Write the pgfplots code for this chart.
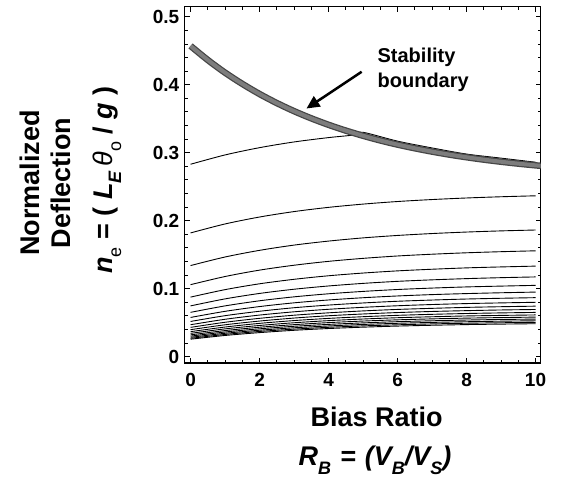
\documentclass[border=0pt]{standalone}
\usepackage{fontspec}
\setmainfont{Liberation Sans}
\usepackage{pgfplots}
\pgfplotsset{compat=1.18}
\usetikzlibrary{arrows.meta}
\newcommand\sub[1]{\raisebox{-0.32em}{\fontsize{18}{18}\selectfont #1}}
\definecolor{bnd}{RGB}{125,125,125}
\definecolor{bndedge}{RGB}{70,70,70}
\begin{document}
\begin{tikzpicture}
\begin{axis}[
  scale only axis, width=356pt, height=356.5pt,
  xmin=-0.17, xmax=10.15, ymin=-0.0093, ymax=0.515,
  xtick={0,2,4,6,8,10}, ytick={0,0.1,0.2,0.3,0.4,0.5},
  minor x tick num=3, minor y tick num=4,
  axis line style={line width=1.5pt},
  every tick/.style={black, line width=0.8pt},
  major tick length=5pt, minor tick length=3pt,
  tick label style={font=\fontsize{19}{19}\selectfont\bfseries},
  xticklabel style={yshift=-7pt},
  yticklabel style={xshift=-2pt},
  /pgf/number format/assume math mode=true,
  /pgf/number format/fixed, /pgf/number format/precision=1,
  no markers,
  every axis plot/.append style={black, line width=0.9pt},
]
% family of deflection curves
\addplot[smooth] coordinates {(0,0.283)(1,0.2967)(2,0.3074)(3,0.3158)(4,0.3222)(4.8,0.3264)(5,0.330)(6,0.317)(7,0.307)(8,0.298)(9,0.292)(10,0.286)};
\addplot[smooth] coordinates {(0,0.182)(1,0.1952)(2,0.2054)(3,0.2134)(4,0.2196)(5,0.2244)(6,0.2282)(7,0.2311)(8,0.2334)(9,0.2352)(10,0.2366)};
\addplot[smooth] coordinates {(0,0.134)(1,0.1466)(2,0.1564)(3,0.1641)(4,0.1700)(5,0.1747)(6,0.1783)(7,0.1811)(8,0.1833)(9,0.1850)(10,0.1863)};
\addplot[smooth] coordinates {(0,0.1059)(1,0.1179)(2,0.1273)(3,0.1345)(4,0.1402)(5,0.1446)(6,0.1481)(7,0.1507)(8,0.1528)(9,0.1544)(10,0.1557)};
\addplot[smooth] coordinates {(0,0.0876)(1,0.0986)(2,0.1072)(3,0.1138)(4,0.1190)(5,0.1230)(6,0.1262)(7,0.1286)(8,0.1306)(9,0.1320)(10,0.1332)};
\addplot[smooth] coordinates {(0,0.0747)(1,0.0850)(2,0.0930)(3,0.0992)(4,0.1040)(5,0.1078)(6,0.1108)(7,0.1130)(8,0.1148)(9,0.1162)(10,0.1173)};
\addplot[smooth] coordinates {(0,0.0652)(1,0.0747)(2,0.0822)(3,0.0880)(4,0.0925)(5,0.0960)(6,0.0988)(7,0.1009)(8,0.1026)(9,0.1038)(10,0.1049)};
\addplot[smooth] coordinates {(0,0.0577)(1,0.0667)(2,0.0737)(3,0.0792)(4,0.0834)(5,0.0867)(6,0.0893)(7,0.0913)(8,0.0928)(9,0.0940)(10,0.0950)};
\addplot[smooth] coordinates {(0,0.0518)(1,0.0603)(2,0.0668)(3,0.0720)(4,0.0759)(5,0.0790)(6,0.0815)(7,0.0833)(8,0.0848)(9,0.0859)(10,0.0868)};
\addplot[smooth] coordinates {(0,0.0470)(1,0.0550)(2,0.0612)(3,0.0660)(4,0.0697)(5,0.0726)(6,0.0749)(7,0.0767)(8,0.0781)(9,0.0791)(10,0.0800)};
\addplot[smooth] coordinates {(0,0.0431)(1,0.0506)(2,0.0564)(3,0.0610)(4,0.0645)(5,0.0673)(6,0.0695)(7,0.0711)(8,0.0725)(9,0.0735)(10,0.0743)};
\addplot[smooth] coordinates {(0,0.0397)(1,0.0469)(2,0.0524)(3,0.0568)(4,0.0602)(5,0.0628)(6,0.0649)(7,0.0665)(8,0.0677)(9,0.0687)(10,0.0694)};
\addplot[smooth] coordinates {(0,0.0368)(1,0.0436)(2,0.0490)(3,0.0531)(4,0.0563)(5,0.0588)(6,0.0608)(7,0.0623)(8,0.0635)(9,0.0644)(10,0.0651)};
\addplot[smooth] coordinates {(0,0.0343)(1,0.0409)(2,0.0459)(3,0.0499)(4,0.0530)(5,0.0554)(6,0.0573)(7,0.0587)(8,0.0599)(9,0.0607)(10,0.0614)};
\addplot[smooth] coordinates {(0,0.0321)(1,0.0384)(2,0.0433)(3,0.0471)(4,0.0501)(5,0.0524)(6,0.0542)(7,0.0556)(8,0.0567)(9,0.0575)(10,0.0582)};
\addplot[smooth] coordinates {(0,0.0302)(1,0.0363)(2,0.0410)(3,0.0447)(4,0.0475)(5,0.0497)(6,0.0515)(7,0.0528)(8,0.0539)(9,0.0547)(10,0.0553)};
\addplot[smooth] coordinates {(0,0.0285)(1,0.0344)(2,0.0389)(3,0.0425)(4,0.0452)(5,0.0474)(6,0.0491)(7,0.0504)(8,0.0514)(9,0.0522)(10,0.0528)};
\addplot[smooth] coordinates {(0,0.0270)(1,0.0327)(2,0.0371)(3,0.0405)(4,0.0432)(5,0.0453)(6,0.0469)(7,0.0482)(8,0.0492)(9,0.0499)(10,0.0505)};
\addplot[smooth] coordinates {(0,0.0257)(1,0.0312)(2,0.0354)(3,0.0388)(4,0.0414)(5,0.0434)(6,0.0450)(7,0.0462)(8,0.0472)(9,0.0479)(10,0.0485)};
% stability boundary
\addplot[smooth, bndedge, line width=6.5pt] coordinates {(0,0.457)(0.5,0.4363)(1,0.4177)(1.5,0.4012)(2,0.3863)(2.5,0.3730)(3,0.3611)(3.5,0.3505)(4,0.3410)(4.5,0.3325)(5,0.3249)(5.5,0.3180)(6,0.3119)(6.5,0.3065)(7,0.3016)(7.5,0.2972)(8,0.2933)(8.5,0.2898)(9,0.2867)(9.5,0.2839)(10,0.2814)(10.3,0.2800)};
\addplot[smooth, bnd, line width=4pt] coordinates {(0,0.457)(0.5,0.4363)(1,0.4177)(1.5,0.4012)(2,0.3863)(2.5,0.3730)(3,0.3611)(3.5,0.3505)(4,0.3410)(4.5,0.3325)(5,0.3249)(5.5,0.3180)(6,0.3119)(6.5,0.3065)(7,0.3016)(7.5,0.2972)(8,0.2933)(8.5,0.2898)(9,0.2867)(9.5,0.2839)(10,0.2814)(10.3,0.2800)};
% annotation
\draw[black, line width=2.5pt, -{Triangle[length=13pt,width=12pt]}] (axis cs:4.96,0.419) -- (axis cs:3.36,0.365);
\node[anchor=west, align=left, font=\fontsize{20}{25}\selectfont\bfseries] at (axis cs:5.32,0.4225) {Stability\\boundary};
\end{axis}
% axis titles
\node[font=\fontsize{27}{27}\selectfont\bfseries] at (192pt,-53.7pt) {Bias Ratio};
\node[font=\fontsize{27}{27}\selectfont\bfseries\itshape] at (190.3pt,-97pt) {R\sub{B}\,\,=\,\,(V\sub{B}/V\sub{S})};
\node[rotate=90, align=center, font=\fontsize{27}{31}\selectfont\bfseries] at (-139pt,180pt) {Normalized\\Deflection};
\node[rotate=90, font=\fontsize{27}{27}\selectfont\bfseries] at (-77.7pt,183pt) {\textit{n}\sub{\mdseries e} = ( \textit{L}\sub{\textit{E}}\,{\mdseries\itshape θ}\sub{\mdseries o} / \textit{g} )};
\pgfresetboundingbox
\path (-184.7pt,-120pt) rectangle (377.3pt,363pt);
\end{tikzpicture}
\end{document}
